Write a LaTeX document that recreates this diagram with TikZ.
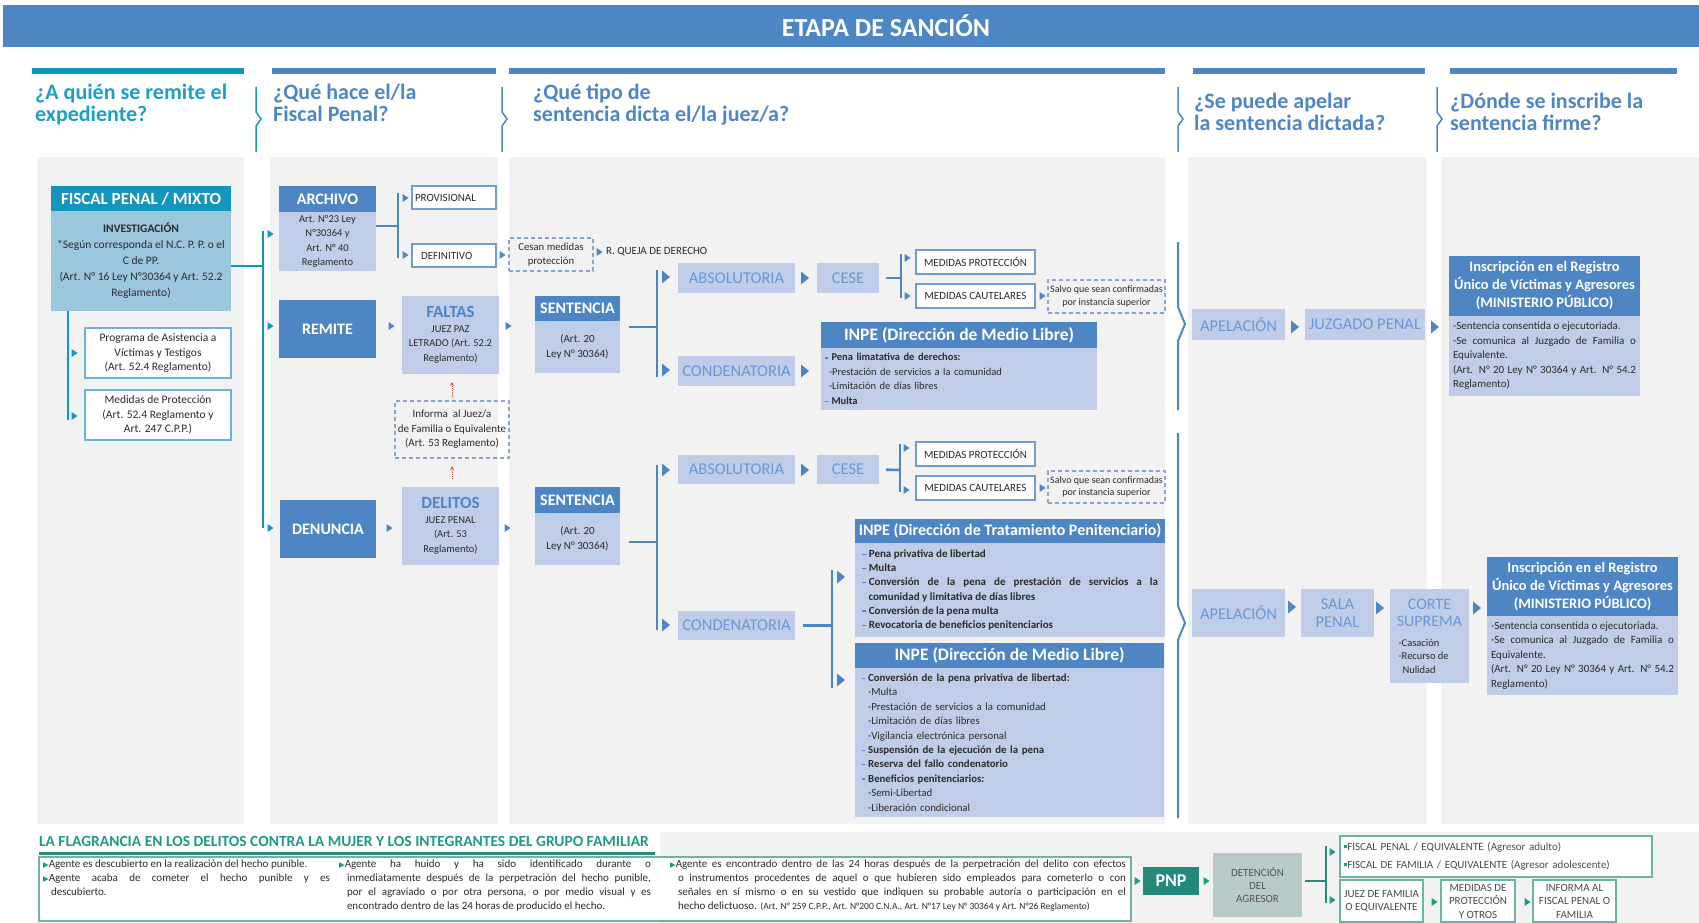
\documentclass[tikz,border=0pt]{standalone}
\usepackage{fontspec}
\setmainfont{Carlito}
\newfontfamily\symfont{DejaVu Sans}
\usetikzlibrary{positioning,arrows.meta}
\setlength{\parindent}{0pt}

\definecolor{mblue}{HTML}{4E86C5}
\definecolor{lblue}{HTML}{BFCDE8}
\definecolor{sblue}{HTML}{6B98D4}
\definecolor{fteal}{HTML}{1395BD}
\definecolor{fbody}{HTML}{9BC7DE}
\definecolor{qteal}{HTML}{1CA0C6}
\definecolor{wline}{HTML}{6F9DD3}
\definecolor{pline}{HTML}{6BB5D8}
\definecolor{dline}{HTML}{8AA6CF}
\definecolor{txt}{HTML}{2B2B2B}
\definecolor{gbg}{HTML}{F2F2F2}
\definecolor{gteal}{HTML}{1F9A86}
\definecolor{gline}{HTML}{2B8A7C}
\definecolor{gbox}{HTML}{6CB4A6}
\definecolor{pnpc}{HTML}{22897B}
\definecolor{detc}{HTML}{B8CBC8}
\definecolor{redc}{HTML}{E05555}

\newcommand{\bul}{{\color{mblue}\rule[0.22em]{0.32em}{0.14em}}\hspace{0.3em}}
\newcommand{\gbul}{{\color{gteal}\rule[0.2em]{0.3em}{0.3em}}}
\newcommand{\tmark}{{\symfont\fontsize{7.5}{9}\selectfont\color{gteal}▶}}

\tikzset{
  cell/.style={inner sep=0pt, outer sep=0pt, text=txt, align=center,
    font=\fontsize{10.5}{14.5}\selectfont},
  solidbox/.style={cell, fill=mblue, text=white, font=\bfseries\fontsize{16}{18}\selectfont},
  lightbox/.style={cell, fill=lblue},
  stagebox/.style={cell, fill=lblue, text=sblue, font=\fontsize{16.5}{18}\selectfont},
  wirebox/.style={cell, draw=wline, line width=1.3pt, fill=white, font=\fontsize{11}{14}\selectfont},
  progbox/.style={cell, draw=pline, line width=1.5pt, fill=white, minimum width=146, minimum height=50,
    font=\fontsize{11.5}{14.5}\selectfont},
  dashbox/.style={cell, draw=dline, line width=1.2pt, dash pattern=on 4pt off 3pt},
  greenbox/.style={cell, draw=gbox, line width=1.5pt, fill=white, text=txt!85, font=\fontsize{11}{13.5}\selectfont},
  question/.style={inner sep=0pt, anchor=north west, align=left, text=mblue,
    font=\bfseries\fontsize{22}{22}\selectfont},
  link/.style={draw=mblue, line width=2.6pt},
  tlink/.style={draw=fteal, line width=2.6pt},
  glink/.style={draw=gline, line width=2.6pt},
  hint/.style={draw=redc, densely dotted, line width=1pt, -{Stealth[length=4pt,width=4pt]}},
  smalltri/.pic={\fill (-2.5,-4) -- (3.5,0) -- (-2.5,4) -- cycle;},
  bigtri/.pic={\fill (-4,-6.5) -- (4,0) -- (-4,6.5) -- cycle;},
}

\begin{document}
\begin{tikzpicture}[x=1pt,y=-1pt]
\useasboundingbox (0,0) rectangle (1699,923);
\fill[mblue] (3,5) rectangle (1699,47);
\fill[gbg] (37,157) rectangle (244,824);
\fill[gbg] (270,157) rectangle (498,824);
\fill[gbg] (509,157) rectangle (1165,824);
\fill[gbg] (1188,157) rectangle (1427,824);
\fill[gbg] (1441,157) rectangle (1699,824);
\fill[gbg] (660,832) rectangle (1699,923);
\node[font=\bfseries\fontsize{26}{28}\selectfont, text=white] (title) at (886,26) {ETAPA DE SANCIÓN};

\draw[fteal, line width=6pt] (32,71) -- (244,71);
\foreach \a/\b in {272/496, 509/1165, 1193/1425, 1450/1677}
  \draw[mblue, line width=6pt] (\a,71) -- (\b,71);
\node[question, text=qteal] (q1) at (35,84) {¿A quién se remite el\\expediente?};
\node[question] (q2) at (273,84) {¿Qué hace el/la\\Fiscal Penal?};
\node[question] (q3) at (533,84) {¿Qué tipo de\\sentencia dicta el/la juez/a?};
\node[question] (q4) at (1194,93) {¿Se puede apelar\\la sentencia dictada?};
\node[question] (q5) at (1450,93) {¿Dónde se inscribe la\\sentencia firme?};
\draw[fteal, line width=1.5pt] (256,87) -- (256,112) -- (261,119) -- (256,126) -- (256,152);
\foreach \x in {502,1178,1437}
  \draw[mblue, line width=1.5pt] (\x,87) -- (\x,112) -- (\x+5,119) -- (\x,126) -- (\x,152);

% column 1
\node[solidbox, fill=fteal, font=\bfseries\fontsize{17}{18}\selectfont, minimum width=180, minimum height=25] (fiscal) at (141,198.5) {FISCAL PENAL / MIXTO};
\node[cell, fill=fbody, minimum width=180, minimum height=100, font=\fontsize{11.5}{16}\selectfont, below=0pt of fiscal] (fiscalbody)
  {\textbf{INVESTIGACIÓN}\\*Según corresponda el N.C. P. P. o el\\C de PP.\\(Art. N° 16 Ley N°30364 y Art. 52.2\\Reglamento)};
\node[progbox] (programa) at (158,353) {Programa de Asistencia a\\Víctimas y Testigos\\(Art. 52.4 Reglamento)};
\node[progbox] (medidas) at (158,415) {Medidas de Protección\\(Art. 52.4 Reglamento y\\Art. 247 C.P.P.)};
\coordinate (fdown) at (68,420);
\draw[tlink] (fiscalbody.south -| fdown) -- (fdown);
\coordinate (ttop) at (263,231);
\coordinate (tbot) at (263,528);
\draw[tlink] (fiscalbody.east |- 0,266) -- (263,266);
\draw[tlink] (ttop) -- (tbot);
\foreach \p in {(74,353),(74,416),(270,234),(270,326),(270,528)}
  \pic[fteal] at \p {smalltri};

% column 2
\node[solidbox, minimum width=97, minimum height=26] (archivo) at (327.5,199) {ARCHIVO};
\node[lightbox, minimum width=97, minimum height=59, below=0pt of archivo] (archivobody) {Art. N°23 Ley\\N°30364 y\\Art. N° 40\\Reglamento};
\node[wirebox, minimum width=84, minimum height=23, text width=78, align=left] (provisional) at (454,197.5) {PROVISIONAL};
\node[wirebox, minimum width=84, minimum height=23, text width=78, align=left] (definitivo) at (454,255.5) {\hspace*{6pt}DEFINITIVO};
\coordinate (aj) at (398,226);
\draw[link] (archivobody.east |- aj) -- (aj);
\draw[link] (398,193) -- (398,258);
\node[solidbox, minimum width=97, minimum height=58] (remite) at (327.5,329) {REMITE};
\node[lightbox, minimum width=97, minimum height=78] (faltas) at (450.5,335)
  {{\color{mblue}\bfseries\fontsize{17}{17}\selectfont FALTAS}\\JUEZ PAZ\\LETRADO (Art. 52.2\\Reglamento)};
\node[dashbox, minimum width=114, minimum height=57, font=\fontsize{11}{14.5}\selectfont] (informa) at (452,429.5) {Informa \ al Juez/a\\de Familia o Equivalente\\(Art. 53 Reglamento)};
\node[solidbox, minimum width=96, minimum height=58] (denuncia) at (328,529) {DENUNCIA};
\node[lightbox, minimum width=97, minimum height=78] (delitos) at (450.5,526)
  {{\color{mblue}\bfseries\fontsize{17}{17}\selectfont DELITOS}\\JUEZ PENAL\\(Art. 53\\Reglamento)};
\draw[hint, shorten <=4pt, shorten >=8pt] (informa.north) -- (informa.north |- faltas.south);
\draw[hint, shorten <=8pt, shorten >=8pt] (delitos.north -| informa.south) -- (informa.south);
\foreach \p in {(405,198),(405,255),(391,326),(508,326),(389,528),(507,528),(502,255),(599,252)}
  \pic[mblue] at \p {smalltri};

% column 3
\node[dashbox, minimum width=84, minimum height=33, font=\fontsize{10.7}{14}\selectfont] (cesan) at (551,254.5) {Cesan medidas\\protección};
\node[cell, anchor=west, font=\fontsize{11}{12}\selectfont] (queja) at (606,252) {R. QUEJA DE DERECHO};
\node[solidbox, minimum width=85, minimum height=25] (sent1) at (577.5,308.5) {SENTENCIA};
\node[lightbox, minimum width=85, minimum height=52, font=\fontsize{11}{15}\selectfont, below=0pt of sent1] (sent1body) {(Art. 20\\Ley N° 30364)};
\coordinate (s1j) at (657,327);
\draw[link, shorten <=9pt] (sent1body.east |- s1j) -- (s1j);
\draw[link] (657,270) -- (657,377);
\node[stagebox, minimum width=117, minimum height=30] (abs1) at (736.5,278) {ABSOLUTORIA};
\node[stagebox, minimum width=62, minimum height=30] (cese1) at (848,278) {CESE};
\node[stagebox, minimum width=117, minimum height=30] (cond1) at (736.5,371) {CONDENATORIA};
\coordinate (c1j) at (901,278);
\draw[link, shorten <=7pt] (cese1.east) -- (c1j);
\draw[link] (901,254) -- (901,298);
\node[wirebox, minimum width=119, minimum height=24] (prot1) at (975.5,262) {MEDIDAS PROTECCIÓN};
\node[wirebox, minimum width=119, minimum height=24] (caut1) at (975.5,296) {MEDIDAS CAUTELARES};
\node[dashbox, minimum width=117, minimum height=33, font=\fontsize{10}{12.5}\selectfont] (salvo1) at (1106.5,296.5) {Salvo que sean confirmadas\\por instancia superior};
\node[solidbox, font=\bfseries\fontsize{17.5}{18}\selectfont, minimum width=276, minimum height=26] (inpe1) at (959,335) {INPE (Dirección de Medio Libre)};
\node[lightbox, minimum width=276, minimum height=62, text width=268, align=left, below=0pt of inpe1] (inpe1body)
  {\bul\textbf{Pena limatativa de derechos:}\\
   \hspace*{4pt}-Prestación de servicios a la comunidad\\
   \hspace*{4pt}-Limitación de días libres\\
   \bul\textbf{Multa}};

\node[solidbox, minimum width=85, minimum height=26] (sent2) at (577.5,500) {SENTENCIA};
\node[lightbox, minimum width=85, minimum height=52, font=\fontsize{11}{15}\selectfont, below=0pt of sent2] (sent2body) {(Art. 20\\Ley N° 30364)};
\coordinate (s2j) at (657,542);
\draw[link, shorten <=9pt] (sent2body.east |- s2j) -- (s2j);
\draw[link] (657,465) -- (657,630);
\node[stagebox, minimum width=117, minimum height=29] (abs2) at (736.5,469.5) {ABSOLUTORIA};
\node[stagebox, minimum width=62, minimum height=29] (cese2) at (848,469.5) {CESE};
\node[stagebox, minimum width=117, minimum height=29] (cond2) at (736.5,625.5) {CONDENATORIA};
\coordinate (c2j) at (900,470);
\draw[link, shorten <=7pt] (cese2.east) -- (c2j);
\draw[link] (900,444) -- (900,492);
\node[wirebox, minimum width=119, minimum height=24] (prot2) at (975.5,454) {MEDIDAS PROTECCIÓN};
\node[wirebox, minimum width=119, minimum height=24] (caut2) at (975.5,488) {MEDIDAS CAUTELARES};
\node[dashbox, minimum width=117, minimum height=32, font=\fontsize{10}{12.5}\selectfont] (salvo2) at (1106.5,487) {Salvo que sean confirmadas\\por instancia superior};
\coordinate (k2j) at (832,625.5);
\draw[link, shorten <=8pt] (cond2.east) -- (k2j);
\draw[link] (832,570) -- (832,688);
\node[solidbox, font=\bfseries\fontsize{16}{18}\selectfont, minimum width=310, minimum height=24] (inpe2) at (1010,531) {INPE (Dirección de Tratamiento Penitenciario)};
\node[lightbox, minimum width=310, minimum height=94, text width=296, align=justify, font=\fontsize{11}{14.2}\selectfont, below=0pt of inpe2] (inpe2body)
  {\bul\textbf{Pena privativa de libertad}\par
   \bul\textbf{Multa}\par
   \bul\textbf{Conversión de la pena de prestación de servicios a la\linebreak \hspace*{6.5pt}comunidad y limitativa de días libres}\par
   \bul\textbf{Conversión de la pena multa}\par
   \bul\textbf{Revocatoria de beneficios penitenciarios}};
\node[solidbox, font=\bfseries\fontsize{17.5}{18}\selectfont, minimum width=309, minimum height=25] (inpe3) at (1009.5,655.5) {INPE (Dirección de Medio Libre)};
\node[lightbox, minimum width=309, minimum height=149, text width=296, align=left, font=\fontsize{10.8}{14.4}\selectfont, below=0pt of inpe3] (inpe3body)
  {\bul\textbf{Conversión de la pena privativa de libertad:}\\
   \hspace*{6.5pt}-Multa\\
   \hspace*{6.5pt}-Prestación de servicios a la comunidad\\
   \hspace*{6.5pt}-Limitación de días libres\\
   \hspace*{6.5pt}-Vigilancia electrónica personal\\
   \bul\textbf{Suspensión de la ejecución de la pena}\\
   \bul\textbf{Reserva del fallo condenatorio}\\
   \bul\textbf{Beneficios penitenciarios:}\\
   \hspace*{6.5pt}-Semi-Libertad\\
   \hspace*{6.5pt}-Liberación condicional};
\foreach \p in {(666,277),(666,370),(805,278),(805,371),(666,470),(666,625),(805,470),(841,577),(841,680)}
  \pic[mblue] at \p {bigtri};
\foreach \p in {(907,258),(907,296),(1042,296),(906,448),(906,490),(1042,488)}
  \pic[mblue] at \p {smalltri};

% columns 4 and 5
\draw[mblue, line width=2pt] (1178,242) -- (1178,307) -- (1185,324) -- (1178,341) -- (1178,410);
\draw[mblue, line width=2pt] (1178,433) -- (1178,606) -- (1185,623) -- (1178,640) -- (1178,818);
\node[stagebox, minimum width=93, minimum height=31] (apel1) at (1238.5,324.5) {APELACIÓN};
\node[stagebox, minimum width=120, minimum height=31] (juzgado) at (1365,324.5) {JUZGADO PENAL};
\node[solidbox, font=\bfseries\fontsize{14.5}{18}\selectfont, minimum width=191, minimum height=60] (ins1) at (1544.5,286)
  {Inscripción en el Registro\\Único de Víctimas y Agresores\\(MINISTERIO PÚBLICO)};
\node[lightbox, minimum width=191, minimum height=80, text width=183, align=justify, font=\fontsize{11}{14.5}\selectfont, below=0pt of ins1] (ins1body)
  {-Sentencia consentida o ejecutoriada.\par
   -Se comunica al Juzgado de Familia o\linebreak Equivalente.\par
   (Art. N° 20 Ley N° 30364 y Art. N° 54.2\linebreak Reglamento)};
\node[stagebox, minimum width=93, minimum height=48] (apel2) at (1238.5,613) {APELACIÓN};
\node[stagebox, minimum width=73, minimum height=48] (sala) at (1337.5,613) {SALA\\PENAL};
\node[stagebox, minimum width=79, minimum height=94, anchor=north, text=txt, font=\fontsize{10.5}{13.5}\selectfont] (corte) at (1429.5,589)
  {{\color{sblue}\fontsize{16}{18}\selectfont CORTE}\\[4pt]
   {\color{sblue}\fontsize{16}{18}\selectfont SUPREMA}\\[6pt]
   \makebox[62pt][l]{-Casación}\\
   \makebox[62pt][l]{-Recurso de}\\
   \makebox[62pt][l]{\hspace*{4pt}Nulidad}};
\node[solidbox, font=\bfseries\fontsize{14.5}{18}\selectfont, minimum width=191, minimum height=59] (ins2) at (1582.5,586.5)
  {Inscripción en el Registro\\Único de Víctimas y Agresores\\(MINISTERIO PÚBLICO)};
\node[lightbox, minimum width=191, minimum height=79, text width=183, align=justify, font=\fontsize{11}{14.5}\selectfont, below=0pt of ins2] (ins2body)
  {-Sentencia consentida o ejecutoriada.\par
   -Se comunica al Juzgado de Familia o\linebreak Equivalente.\par
   (Art. N° 20 Ley N° 30364 y Art. N° 54.2\linebreak Reglamento)};
\foreach \p in {(1295,327),(1435,327),(1292,607),(1380,608),(1477,608)}
  \pic[mblue] at \p {bigtri};

% flagrancia
\node[cell, anchor=west, text=gteal, font=\bfseries\fontsize{15.5}{18}\selectfont] (flagtitle) at (39,841)
  {LA FLAGRANCIA EN LOS DELITOS CONTRA LA MUJER Y LOS INTEGRANTES DEL GRUPO FAMILIAR};
\draw[gline, line width=3pt] (39,853) -- (655,853);
\node[cell, draw=gbox, fill=white, line width=1.5pt, minimum width=1092, minimum height=64] (flagbox) at (585,889) {};
\node[cell, anchor=north west, text width=287, align=justify, font=\fontsize{11}{14}\selectfont] (caseA) at (43,860)
  {\tmark Agente es descubierto en la realización del hecho punible.\par
   \tmark Agente acaba de cometer el hecho punible y es\linebreak \hspace*{8pt}descubierto.};
\node[cell, anchor=north west, text width=312, align=justify, font=\fontsize{11}{14}\selectfont] (caseB) at (339,860)
  {\tmark Agente ha huido y ha sido identificado durante o\linebreak
   \hspace*{8pt}inmediatamente después de la perpetración del hecho punible,\linebreak
   \hspace*{8pt}por el agraviado o por otra persona, o por medio visual y es\linebreak
   \hspace*{8pt}encontrado dentro de las 24 horas de producido el hecho.};
\node[cell, anchor=north west, text width=456, align=justify, font=\fontsize{11}{14}\selectfont] (caseC) at (670,860)
  {\tmark Agente es encontrado dentro de las 24 horas después de la perpetración del delito con efectos\linebreak
   \hspace*{8pt}o instrumentos procedentes de aquel o que hubieren sido empleados para cometerlo o con\linebreak
   \hspace*{8pt}señales en sí mismo o en su vestido que indiquen su probable autoría o participación en el\linebreak
   \hspace*{8pt}hecho delictuoso. {\fontsize{9.5}{14}\selectfont(Art. N° 259 C.P.P., Art. N°200 C.N.A., Art. N°17 Ley N° 30364 y Art. N°26 Reglamento)}};
\node[cell, fill=pnpc, text=white, font=\bfseries\fontsize{18}{18}\selectfont, minimum width=56, minimum height=28] (pnp) at (1171,881) {PNP};
\node[cell, fill=detc, text=txt!80, font=\fontsize{11}{13}\selectfont, minimum width=89, minimum height=64] (detencion) at (1257.5,885) {DETENCIÓN\\DEL\\AGRESOR};
\coordinate (dj) at (1326,881);
\draw[glink, shorten <=3pt] (detencion.east |- dj) -- (dj);
\draw[glink] (1326,846) -- (1326,903);
\node[greenbox, minimum width=312, minimum height=41, text width=304, align=left, font=\fontsize{11}{18}\selectfont] (fiscales) at (1496,856.5)
  {\gbul FISCAL PENAL / EQUIVALENTE (Agresor adulto)\\\gbul FISCAL DE FAMILIA / EQUIVALENTE (Agresor adolescente)};
\node[greenbox, minimum width=83, minimum height=42] (juez) at (1381.5,901) {JUEZ DE FAMILIA\\O EQUIVALENTE};
\node[greenbox, minimum width=74, minimum height=42] (proteccion) at (1478,901) {MEDIDAS DE\\PROTECCIÓN\\Y OTROS};
\node[greenbox, minimum width=83, minimum height=42] (informafiscal) at (1574.5,901) {INFORMA AL\\FISCAL PENAL O\\FAMILIA};
\foreach \p in {(1137,881),(1206,881),(1332,852),(1332,900),(1434,902),(1527,902)}
  \pic[gteal] at \p {smalltri};
\end{tikzpicture}
\end{document}
